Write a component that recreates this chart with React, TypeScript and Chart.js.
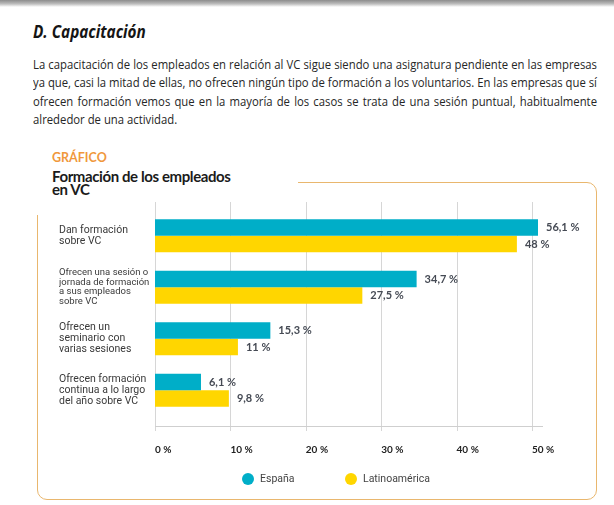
import React, { useEffect, useRef } from "react";
import { Chart, registerables } from "chart.js";

Chart.register(...registerables);

// ---- data ----
const categories: string[][] = [
  ["Dan formación", "sobre VC"],
  ["Ofrecen una sesión o", "jornada de formación", "a sus empleados", "sobre VC"],
  ["Ofrecen un", "seminario con", "varias sesiones"],
  ["Ofrecen formación", "continua a lo largo", "del año sobre VC"],
];
const seriesNames = ["España", "Latinoamérica"];
const espana = [56.1, 34.7, 15.3, 6.1];
const latinoamerica = [48, 27.5, 11, 9.8];
const xMin = 0;
const xMax = 50.8; // the drawn axis ends just past the 50 % line
const xStep = 10;

const TEAL = "#00aec8";
const YELLOW = "#ffd600";
const ORANGE_LINE = "#e9b76e";

const paragraphLines = [
  "La capacitación de los empleados en relación al VC sigue siendo una asignatura pendiente en las empresas",
  "ya que, casi la mitad de ellas, no ofrecen ningún tipo de formación a los voluntarios. En las empresas que sí",
  "ofrecen formación vemos que en la mayoría de los casos se trata de una sesión puntual, habitualmente",
  "alrededor de una actividad.",
];

const fmt = (v: number) => String(v).replace(".", ",") + "\u202F%";

const gridPlugin = {
  id: "customGrid",
  beforeDatasetsDraw(chart: any) {
    const { ctx, chartArea } = chart;
    const x = chart.scales.x;
    ctx.save();
    ctx.lineWidth = 1;
    ctx.strokeStyle = "#d6d6d6";
    x.ticks.forEach((t: any) => {
      const px = Math.round(x.getPixelForValue(t.value)) + 0.5;
      ctx.beginPath();
      ctx.moveTo(px, chartArea.top - 8);
      ctx.lineTo(px, chartArea.bottom + 15);
      ctx.stroke();
    });
    const y = Math.round(chartArea.bottom + 10) + 0.5;
    ctx.strokeStyle = "#cfcfcf";
    ctx.beginPath();
    ctx.moveTo(chartArea.left, y);
    ctx.lineTo(chartArea.right + 5, y);
    ctx.stroke();
    ctx.restore();
  },
};

const valueLabelPlugin = {
  id: "valueLabels",
  afterDatasetsDraw(chart: any) {
    const { ctx, chartArea } = chart;
    ctx.save();
    ctx.font = "bold 11px Lato";
    ctx.fillStyle = "#454a54";
    ctx.textAlign = "left";
    ctx.textBaseline = "middle";
    chart.data.datasets.forEach((ds: any, di: number) => {
      const meta = chart.getDatasetMeta(di);
      meta.data.forEach((el: any, i: number) => {
        const end = Math.min(el.x, chartArea.right);
        ctx.fillText(fmt(ds.data[i]), end + 8, el.y);
      });
    });
    ctx.restore();
  },
};

function BarChart() {
  const ref = useRef<HTMLCanvasElement | null>(null);
  useEffect(() => {
    if (!ref.current) return;
    const chart = new Chart(ref.current, {
      type: "bar",
      data: {
        labels: categories as any,
        datasets: [
          {
            label: seriesNames[0],
            data: espana,
            backgroundColor: TEAL,
            clip: 0 as any,
            categoryPercentage: 0.64,
            barPercentage: 1,
          },
          {
            label: seriesNames[1],
            data: latinoamerica,
            backgroundColor: YELLOW,
            clip: 0 as any,
            categoryPercentage: 0.64,
            barPercentage: 1,
          },
        ],
      },
      options: {
        indexAxis: "y",
        responsive: false,
        animation: false,
        devicePixelRatio: 1,
        layout: { padding: { left: 59, top: 210, right: 76, bottom: 48 } },
        plugins: { legend: { display: false }, tooltip: { enabled: false } },
        scales: {
          x: {
            min: xMin,
            max: xMax,
            grid: { display: false, drawTicks: false },
            border: { display: false },
            ticks: {
              stepSize: xStep,
              includeBounds: false,
              align: "start",
              padding: 28,
              color: "#222",
              font: { family: "Lato", weight: "bold", size: 10 },
              callback: (v: any) => v + "\u202F%",
            },
            afterFit: (s: any) => {
              s.height = 41;
            },
          } as any,
          y: {
            grid: { display: false, drawTicks: false },
            border: { display: false },
            ticks: {
              crossAlign: "far",
              color: "#3a3a3a",
              font: (c: any) =>
                c.index === 1
                  ? { family: "'Liberation Sans Narrow', Roboto, sans-serif", size: 9.5, lineHeight: 1.0 }
                  : { family: "'Liberation Sans Narrow', Roboto, sans-serif", size: 10.5, lineHeight: 1.05 },
            },
            afterFit: (s: any) => {
              s.width = 96;
            },
          } as any,
        },
      },
      plugins: [gridPlugin, valueLabelPlugin],
    });
    return () => chart.destroy();
  }, []);
  return (
    <canvas
      ref={ref}
      width={614}
      height={505}
      style={{ position: "absolute", left: 0, top: 0, width: 614, height: 505 }}
    />
  );
}

export default function App() {
  const abs: React.CSSProperties = { position: "absolute", whiteSpace: "nowrap" };
  const pScale = 0.92;
  return (
    <div style={{ position: "absolute", left: 0, top: 0, width: 614, height: 505, background: "#fff", overflow: "hidden" }}>
      <div style={{ ...abs, left: 0, top: 0, width: 614, height: 7, background: "linear-gradient(#8c8c8c, #bdbdbd 55%, #ffffff)" }} />
      <div
        style={{
          ...abs,
          left: 33,
          top: 21.5,
          fontFamily: "'Open Sans', sans-serif",
          fontWeight: 700,
          fontStyle: "italic",
          fontSize: 18,
          lineHeight: "18px",
          color: "#151515",
          transform: "scaleX(0.85)",
          transformOrigin: "left top",
        }}
      >
        D. Capacitación
      </div>
      {paragraphLines.map((line, i) => (
        <div
          key={i}
          style={{
            ...abs,
            left: 33,
            top: 56 + i * 18.3,
            width: 564 / pScale,
            height: 18.3,
            fontFamily: "'Open Sans', sans-serif",
            fontSize: 12.3,
            lineHeight: "18.3px",
            color: "#262626",
            textAlign: i < paragraphLines.length - 1 ? "justify" : "left",
            textAlignLast: i < paragraphLines.length - 1 ? "justify" : "left",
            transform: `scaleX(${pScale})`,
            transformOrigin: "left top",
          }}
        >
          {line}
        </div>
      ))}
      {/* framed box */}
      <div
        style={{
          position: "absolute",
          left: 37,
          top: 182,
          width: 560,
          height: 318,
          boxSizing: "border-box",
          border: `1.5px solid ${ORANGE_LINE}`,
          borderRadius: 10,
        }}
      />
      <div style={{ position: "absolute", left: 30, top: 176, width: 268, height: 39, background: "#fff" }} />
      <div
        style={{
          ...abs,
          left: 52,
          top: 152,
          fontFamily: "Lato, sans-serif",
          fontWeight: 700,
          fontSize: 12.5,
          lineHeight: "12.5px",
          color: "#f0983c",
        }}
      >
        GRÁFICO
      </div>
      <div
        style={{
          ...abs,
          left: 52,
          top: 169.7,
          fontFamily: "Lato, sans-serif",
          fontWeight: 700,
          fontSize: 15,
          lineHeight: "13px",
          letterSpacing: "-0.4px",
          color: "#1b1b1b",
          whiteSpace: "pre",
        }}
      >
        {"Formación de los empleados\nen VC"}
      </div>
      <BarChart />
      {/* legend */}
      {seriesNames.map((name, i) => {
        const cx = i === 0 ? 248 : 351;
        return (
          <React.Fragment key={name}>
            <div
              style={{
                position: "absolute",
                left: cx - 6,
                top: 473,
                width: 12,
                height: 12,
                borderRadius: 6,
                background: i === 0 ? TEAL : YELLOW,
              }}
            />
            <div
              style={{
                ...abs,
                left: cx + 12,
                top: 472,
                fontFamily: "'Liberation Sans Narrow', Roboto, sans-serif",
                fontSize: 10.5,
                lineHeight: "14px",
                color: "#444",
              }}
            >
              {name}
            </div>
          </React.Fragment>
        );
      })}
    </div>
  );
}
